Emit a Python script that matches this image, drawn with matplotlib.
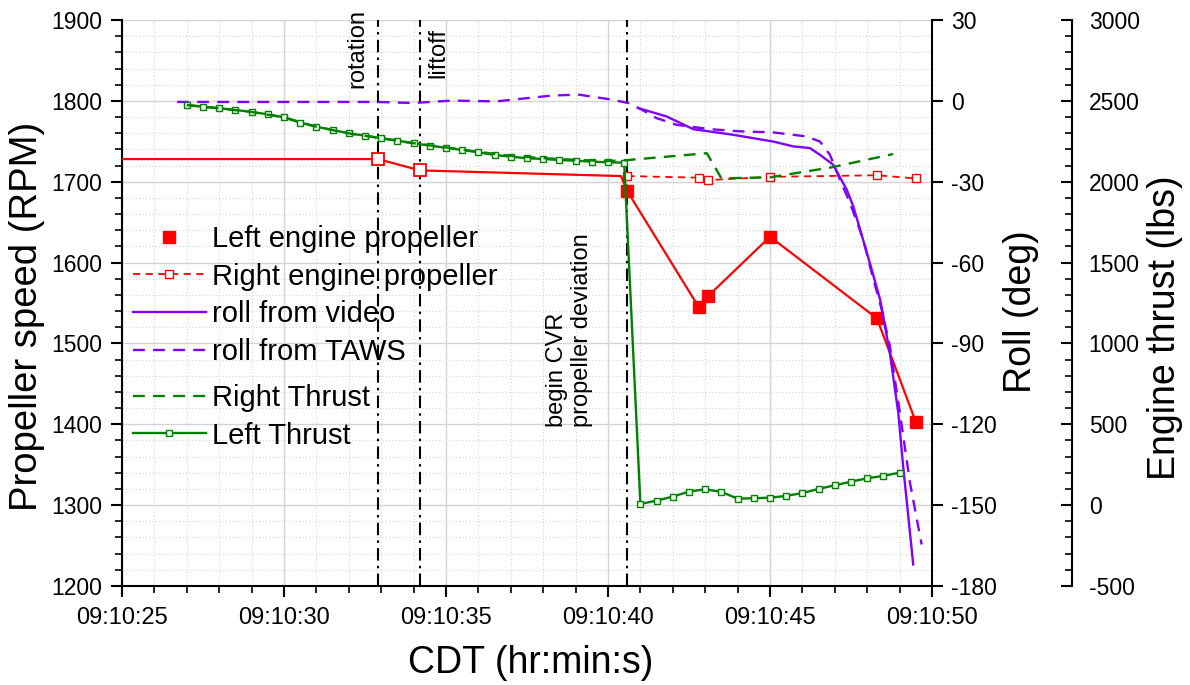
import matplotlib
matplotlib.use("Agg")
import matplotlib.pyplot as plt
from matplotlib.lines import Line2D
from matplotlib.ticker import MultipleLocator, FuncFormatter

plt.rcParams['font.family'] = ['Liberation Sans', 'DejaVu Sans']
plt.rcParams['axes.unicode_minus'] = False

# ---------------- data (time in seconds after 09:10:00) ----------------
left_prop_t = [25.0, 32.9, 34.2, 40.4, 40.6, 42.8, 43.1, 45.0, 48.3, 49.5]
left_prop_rpm = [1728, 1728, 1714, 1707, 1688, 1545, 1559, 1632, 1531, 1403]
left_prop_marker = ['none', 'open', 'open', 'none', 'fill', 'fill', 'fill', 'fill', 'fill', 'fill']

right_prop_t = [40.6, 42.8, 43.1, 45.0, 48.3, 49.5]
right_prop_rpm = [1707, 1705, 1702, 1706, 1708, 1704]

roll_video_t = [40.94, 41.81, 42.63, 43.87, 45.1, 45.72, 46.23, 46.54, 46.95, 47.37,
                47.57, 48.08, 48.4, 48.7, 48.96, 49.11, 49.42]
roll_video = [-2.7, -5.8, -10.5, -12.6, -15.1, -16.9, -17.5, -20.0, -23.7, -33.0,
              -39.1, -60.1, -73.8, -93.6, -115.8, -135.6, -172.0]

roll_taws_t = [26.7, 32.86, 33.98, 35.2, 36.56, 37.5, 38.3, 39.1, 40.15, 40.62, 41.0,
               41.5, 42.12, 43.15, 44.07, 45.1, 46.13, 46.54, 46.85, 47.16, 47.47,
               47.88, 48.14, 48.45, 48.70, 49.01, 49.32, 49.68]
roll_taws = [-0.4, -0.4, -0.8, 0.1, -0.2, 1.0, 2.0, 2.3, 0.4, -0.8, -3.0,
             -6.4, -8.9, -10.5, -11.3, -11.7, -13.2, -15.1, -20.0, -29.3, -37.9,
             -51.5, -63.9, -77.5, -91.1, -115.8, -141.7, -164.6]

right_thrust_t = [27.0, 28.0, 29.0, 30.0, 31.0, 32.0, 33.0, 34.0, 35.0, 36.0, 37.0,
                  38.0, 39.0, 40.0, 40.6, 43.05, 43.5, 45.0, 46.9, 48.8]
right_thrust = [2474, 2454, 2431, 2398, 2340, 2299, 2269, 2238, 2212, 2185, 2160,
                2146, 2135, 2128, 2134, 2176, 2021, 2027, 2089, 2171]

left_thrust_t = [27.0, 27.5, 28.0, 28.5, 29.0, 29.5, 30.0, 30.5, 31.0, 31.5, 32.0,
                 32.5, 33.0, 33.5, 34.0, 34.5, 35.0, 35.5, 36.0, 36.5, 37.0, 37.5,
                 38.0, 38.5, 39.0, 39.5, 40.0, 40.5, 41.0, 41.5, 42.0, 42.5, 43.0,
                 43.5, 44.0, 44.5, 45.0, 45.5, 46.0, 46.5, 47.0, 47.5, 48.0, 48.5, 49.0]
left_thrust = [2474, 2464, 2454, 2444, 2431, 2417, 2398, 2365, 2340, 2320, 2299,
               2285, 2269, 2254, 2238, 2223, 2210, 2196, 2182, 2165, 2155, 2145,
               2141, 2134, 2130, 2124, 2120, 2118, 7, 28, 53, 84, 98, 82, 40,
               43, 46, 57, 75, 100, 123, 145, 166, 181, 201]

event_t = [32.9, 34.2, 40.6]
event_labels = ['rotation', 'liftoff', 'begin CVR\npropeller deviation']
event_label_x = [32.25, 34.78, 38.81]
event_label_y = [1816, 1828, 1397]

x_ticks = [25, 30, 35, 40, 45, 50]

RED = '#ff0000'
GREEN = '#008000'
PURPLE = '#8000ff'

# ---------------- figure ----------------
fig = plt.figure(figsize=(11.9, 6.85), dpi=100)
ax = fig.add_axes([122 / 1190, 1 - 586 / 685, 810 / 1190, 566 / 685])
ax_roll = ax.twinx()
ax_thr = ax.twinx()

# grid
ax.set_axisbelow(True)
ax.grid(which='major', color='#d4d4d4', lw=1.0, ls='-')
ax.grid(which='minor', color='#d4d4d4', lw=0.8, ls=(0, (1, 2)))

# event lines
for t in event_t:
    ax.axvline(t, color='black', lw=1.5, ls=(0, (6, 2.5, 1.2, 2.5)), zorder=3)
for x, y, s in zip(event_label_x, event_label_y, event_labels):
    ax.text(x, y, s, rotation=90, ha='center', va='bottom', fontsize=17,
            multialignment='left', zorder=4)

# propeller lines
ax.plot(left_prop_t, left_prop_rpm, color=RED, lw=1.6, zorder=5)
for t, r, m in zip(left_prop_t, left_prop_rpm, left_prop_marker):
    if m == 'fill':
        ax.plot([t], [r], ls='none', marker='s', ms=9, color=RED, zorder=6)
    elif m == 'open':
        ax.plot([t], [r], ls='none', marker='s', ms=8.5, mfc='white', mec=RED,
                mew=1.3, zorder=6)
ax.plot(right_prop_t, right_prop_rpm, color=RED, lw=1.3, dashes=(4, 3),
        marker='s', ms=6, mfc='white', mec=RED, mew=1.0, zorder=5)

# roll lines
ax_roll.plot(roll_video_t, roll_video, color=PURPLE, lw=1.7)
ax_roll.plot(roll_taws_t, roll_taws, color=PURPLE, lw=1.7, dashes=(5, 3.5))

# thrust lines
ax_thr.plot(left_thrust_t, left_thrust, color=GREEN, lw=1.7, marker='s', ms=5,
            mfc='#e8f5e8', mec=GREEN, mew=1.0)
ax_thr.plot(right_thrust_t, right_thrust, color=GREEN, lw=1.7, dashes=(5, 3.5))

# ---------------- axes styling ----------------
ax.set_xlim(25, 50)
ax.set_ylim(1200, 1900)
ax_roll.set_ylim(-180, 30)
ax_thr.set_ylim(-500, 3000)

ax.set_xticks(x_ticks)
ax.xaxis.set_minor_locator(MultipleLocator(1))
ax.xaxis.set_major_formatter(FuncFormatter(lambda v, p: f"09:10:{int(round(v)):02d}"))
ax.yaxis.set_major_locator(MultipleLocator(100))
ax.yaxis.set_minor_locator(MultipleLocator(20))
ax_roll.yaxis.set_major_locator(MultipleLocator(30))
ax_thr.yaxis.set_major_locator(MultipleLocator(500))
ax_thr.yaxis.set_minor_locator(MultipleLocator(100))

for a in (ax, ax_roll, ax_thr):
    a.spines['top'].set_visible(False)
for s in ('bottom', 'left'):
    ax_roll.spines[s].set_visible(False)
    ax_thr.spines[s].set_visible(False)
ax.spines['right'].set_visible(False)
ax_thr.spines['right'].set_position(('axes', (1072 - 122) / 810))

for sp in list(ax.spines.values()) + list(ax_roll.spines.values()) + list(ax_thr.spines.values()):
    sp.set_linewidth(1.5)

ax.tick_params(axis='x', which='major', direction='out', length=8, width=1.5,
               labelsize=17, pad=7)
ax.tick_params(axis='x', which='minor', direction='out', length=5, width=1.2)
ax.tick_params(axis='y', which='major', direction='out', length=8, width=1.5,
               labelsize=16.5, pad=6)
ax.tick_params(axis='y', which='minor', direction='out', length=5, width=1.2)
ax_roll.tick_params(axis='y', which='major', direction='out', length=8, width=1.5,
                    labelsize=16.5, pad=6)
ax_thr.tick_params(axis='y', which='major', direction='in', length=8, width=1.5,
                   labelsize=16.5, pad=12)
ax_thr.tick_params(axis='y', which='minor', direction='in', length=5, width=1.2)

ax.set_xlabel('CDT (hr:min:s)', fontsize=27, va='center')
ax.xaxis.set_label_coords(0.504, -0.136)
ax.set_ylabel('Propeller speed (RPM)', fontsize=27.5, va='center')
ax.yaxis.set_label_coords(-0.117, 0.477)
ax_roll.set_ylabel('Roll (deg)', fontsize=27, va='center')
ax_roll.yaxis.set_label_coords(1.11, 0.484)
ax_thr.set_ylabel('Engine thrust (lbs)', fontsize=27, va='center')
ax_thr.yaxis.set_label_coords(1.288, 0.456)

# ---------------- legends ----------------
h1 = [
    Line2D([], [], ls='none', marker='s', ms=9, color=RED),
    Line2D([], [], color=RED, lw=1.3, dashes=(4, 3), marker='s', ms=6, mfc='white', mec=RED),
    Line2D([], [], color=PURPLE, lw=1.7),
    Line2D([], [], color=PURPLE, lw=1.7, dashes=(5, 3.5)),
]
l1 = ['Left engine propeller', 'Right engine propeller', 'roll from video', 'roll from TAWS']
h2 = [
    Line2D([], [], color=GREEN, lw=1.7, dashes=(5, 3.5)),
    Line2D([], [], color=GREEN, lw=1.7, marker='s', ms=5, mfc='#e8f5e8', mec=GREEN),
]
l2 = ['Right Thrust', 'Left Thrust']

leg1 = ax_thr.legend(h1, l1, loc='upper left', bbox_to_anchor=(0.0136, 0.638),
                     frameon=False, fontsize=21, borderpad=0, borderaxespad=0,
                     handlelength=2.5, handletextpad=0.2, labelspacing=0.33, numpoints=1)
ax_thr.add_artist(leg1)
ax_thr.legend(h2, l2, loc='upper left', bbox_to_anchor=(0.0136, 0.357),
              frameon=False, fontsize=21, borderpad=0, borderaxespad=0,
              handlelength=2.5, handletextpad=0.2, labelspacing=0.33, numpoints=1)

fig.savefig('out.png', dpi=100)
